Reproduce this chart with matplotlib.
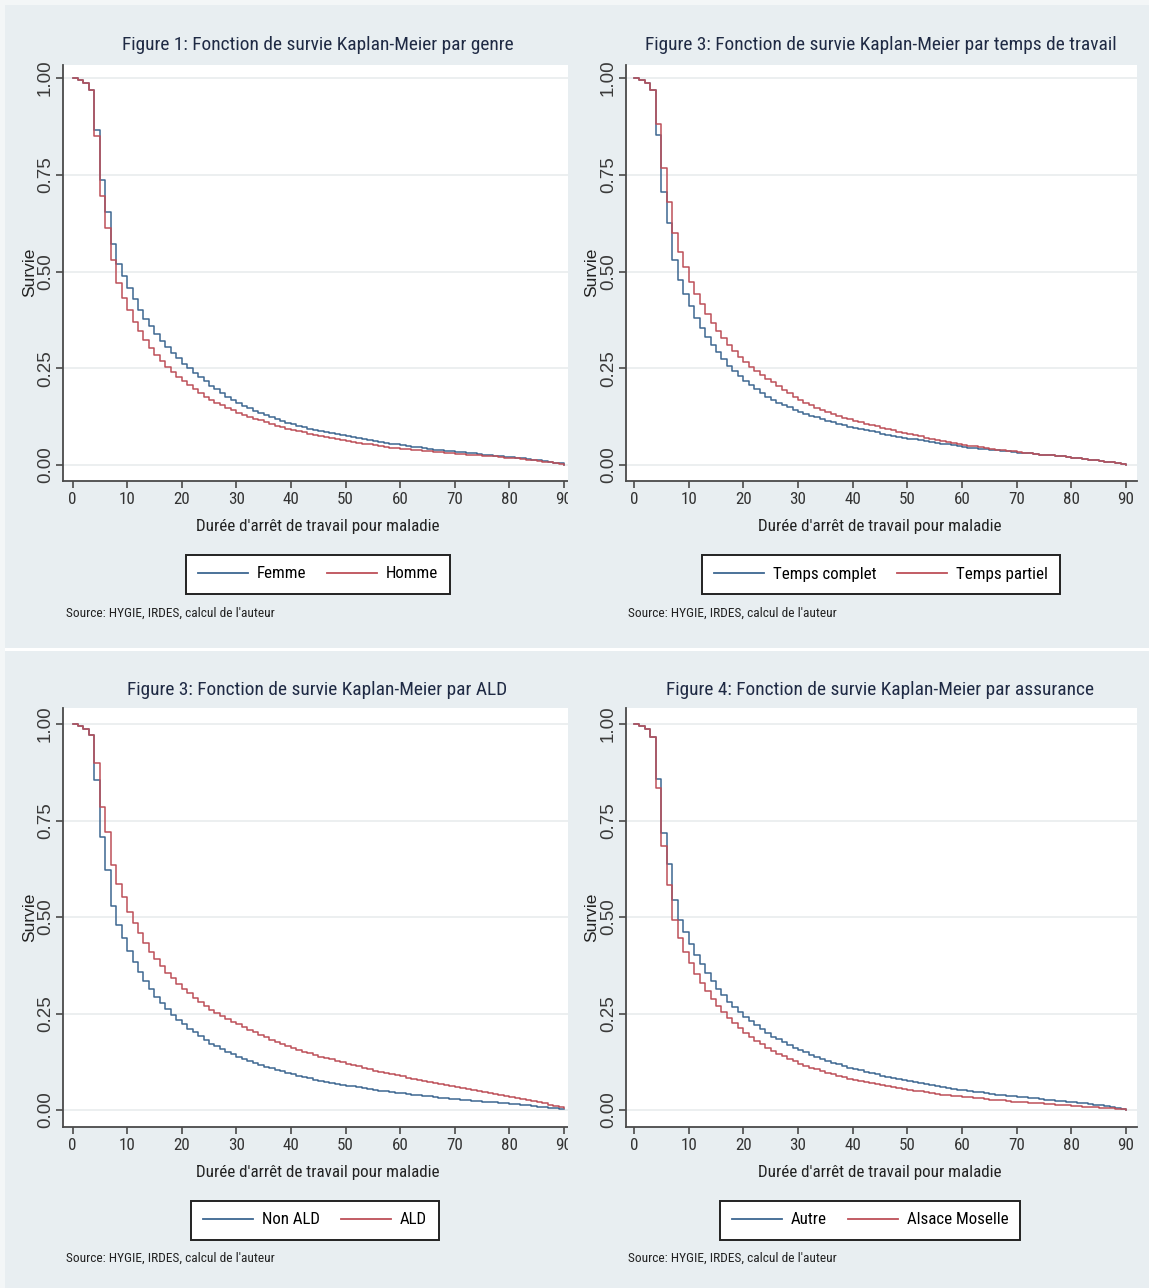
import matplotlib.pyplot as plt
import matplotlib.font_manager as fm
from matplotlib.font_manager import FontProperties
from matplotlib.patches import Rectangle
from matplotlib.lines import Line2D

# survival at each day 0..90
days = list(range(91))

genre_femme = [1.000, .996, .988, .970, .866, .736, .655, .571, .520, .488,
               .458, .428, .400, .378, .358, .338, .320, .304, .290, .276,
               .262, .250, .239, .228, .217, .205, .196, .186, .177, .168,
               .160, .153, .146, .140, .134, .128, .123, .118, .114, .109,
               .105, .101, .098, .094, .091, .088, .085, .082, .079, .077,
               .074, .072, .069, .067, .064, .062, .060, .057, .055, .053,
               .051, .049, .047, .046, .044, .042, .040, .039, .037, .036,
               .034, .033, .031, .030, .028, .027, .026, .024, .023, .021,
               .020, .018, .017, .015, .014, .012, .010, .008, .006, .004, .000]
genre_homme = [1.000, .996, .988, .970, .850, .696, .612, .530, .470, .432,
               .400, .370, .345, .322, .302, .284, .268, .253, .240, .228,
               .216, .206, .196, .186, .177, .168, .161, .154, .147, .141,
               .135, .130, .125, .120, .115, .110, .106, .102, .098, .094,
               .090, .087, .084, .081, .078, .075, .072, .070, .067, .065,
               .062, .060, .058, .055, .053, .051, .049, .047, .045, .044,
               .042, .041, .039, .038, .036, .035, .034, .033, .031, .030,
               .029, .028, .027, .026, .025, .024, .023, .022, .020, .019,
               .018, .017, .015, .014, .012, .011, .009, .007, .005, .003, .000]

temps_complet = [1.000, .996, .988, .970, .853, .706, .625, .530, .478, .442,
                 .410, .380, .354, .331, .310, .291, .273, .257, .243, .230,
                 .217, .206, .196, .186, .177, .168, .161, .155, .149, .143,
                 .137, .132, .127, .123, .118, .114, .110, .106, .103, .099,
                 .096, .093, .090, .087, .084, .081, .078, .076, .073, .071,
                 .068, .066, .064, .061, .059, .057, .055, .053, .051, .049,
                 .047, .045, .044, .042, .041, .039, .038, .036, .035, .033,
                 .032, .031, .030, .028, .027, .026, .025, .023, .022, .020,
                 .019, .017, .016, .014, .013, .011, .009, .007, .005, .003, .000]
temps_partiel = [1.000, .996, .988, .970, .881, .767, .680, .600, .551, .512,
                 .474, .443, .415, .390, .367, .346, .327, .310, .294, .280,
                 .266, .254, .243, .233, .223, .214, .204, .195, .186, .177,
                 .168, .161, .154, .148, .142, .136, .131, .127, .122, .118,
                 .114, .110, .107, .103, .100, .096, .093, .090, .086, .083,
                 .080, .077, .074, .071, .068, .065, .062, .060, .057, .055,
                 .052, .050, .048, .046, .044, .042, .040, .038, .037, .035,
                 .033, .032, .030, .029, .027, .026, .025, .023, .022, .020,
                 .019, .017, .016, .014, .013, .011, .009, .007, .005, .003, .000]

non_ald = [1.000, .996, .988, .971, .855, .708, .622, .528, .479, .445,
           .412, .383, .357, .334, .313, .294, .277, .261, .247, .234,
           .222, .211, .201, .191, .181, .172, .165, .158, .151, .144,
           .138, .133, .127, .122, .117, .112, .108, .104, .100, .096,
           .092, .089, .086, .082, .079, .076, .073, .071, .068, .066,
           .063, .061, .059, .056, .054, .052, .050, .048, .046, .045,
           .043, .041, .040, .038, .037, .035, .034, .032, .031, .029,
           .028, .027, .026, .024, .023, .022, .021, .020, .018, .017,
           .016, .015, .013, .012, .010, .009, .008, .006, .005, .003, .002]
ald = [1.000, .996, .988, .971, .900, .785, .720, .635, .585, .552,
       .514, .485, .458, .433, .410, .390, .372, .356, .341, .327,
       .314, .302, .291, .280, .270, .260, .252, .244, .237, .229,
       .222, .215, .208, .201, .194, .188, .182, .176, .171, .165,
       .160, .155, .151, .147, .142, .138, .134, .131, .127, .124,
       .120, .116, .113, .109, .106, .102, .099, .096, .093, .090,
       .087, .084, .081, .079, .076, .073, .070, .068, .065, .063,
       .060, .057, .055, .052, .050, .047, .044, .042, .039, .037,
       .034, .031, .028, .026, .023, .020, .017, .014, .011, .008, .005]

autre = [1.000, .996, .988, .967, .857, .717, .637, .544, .492, .460,
         .430, .402, .377, .354, .333, .314, .297, .281, .266, .253,
         .241, .230, .219, .209, .199, .190, .183, .176, .168, .161,
         .155, .149, .143, .138, .132, .127, .123, .118, .114, .110,
         .106, .103, .099, .096, .092, .089, .086, .083, .081, .078,
         .075, .072, .070, .067, .065, .062, .060, .058, .055, .053,
         .051, .049, .047, .046, .044, .042, .040, .039, .037, .036,
         .034, .033, .031, .030, .028, .027, .026, .024, .023, .021,
         .020, .018, .017, .015, .014, .012, .010, .008, .006, .003, .000]
alsace = [1.000, .996, .988, .967, .834, .685, .583, .492, .445, .410,
          .380, .353, .329, .308, .288, .270, .254, .239, .225, .212,
          .200, .190, .180, .170, .161, .152, .145, .139, .132, .126,
          .120, .115, .110, .105, .101, .096, .092, .088, .085, .081,
          .078, .075, .072, .070, .067, .064, .062, .059, .057, .054,
          .052, .050, .048, .046, .044, .042, .040, .039, .037, .036,
          .034, .033, .031, .030, .028, .027, .026, .025, .023, .022,
          .021, .020, .019, .018, .017, .016, .015, .014, .013, .012,
          .011, .010, .009, .008, .007, .006, .005, .004, .003, .002, .000]

titles = ["Figure 1: Fonction de survie Kaplan-Meier par genre",
          "Figure 3: Fonction de survie Kaplan-Meier par temps de travail",
          "Figure 3: Fonction de survie Kaplan-Meier par ALD",
          "Figure 4: Fonction de survie Kaplan-Meier par assurance"]
legend_labels = [("Femme", "Homme"), ("Temps complet", "Temps partiel"),
                 ("Non ALD", "ALD"), ("Autre", "Alsace Moselle")]
series = [(genre_femme, genre_homme), (temps_complet, temps_partiel),
          (non_ald, ald), (autre, alsace)]
xticks = [0, 10, 20, 30, 40, 50, 60, 70, 80, 90]
yticks = [0, 0.25, 0.5, 0.75, 1.0]
source = "Source: HYGIE, IRDES, calcul de l'auteur"
xlabel = "Durée d'arrêt de travail pour maladie"

BG = '#e8eef1'
BLUE = '#3d6791'
RED = '#bd4f58'
AXC = '#4a4a4a'
WIDE = ['Liberation Sans', 'DejaVu Sans']


def find_narrow():
    # look for a condensed sans face (Stata used Arial Narrow)
    names = ['Liberation Sans Narrow', 'Arial Narrow', 'Roboto Condensed',
             'Open Sans Condensed', 'Noto Sans Condensed', 'DejaVu Sans Condensed']
    regular = lambda f: f.style == 'normal' and f.weight in (400, 'normal', 'regular')
    for name in names:
        for f in fm.fontManager.ttflist:
            if f.name == name and regular(f):
                return f.fname
    for f in fm.fontManager.ttflist:
        if f.stretch in ('condensed', 'semi-condensed', 'extra-condensed') and regular(f):
            return f.fname
    return None


NARROW_FILE = find_narrow()


def nfont(size):
    if NARROW_FILE:
        return FontProperties(fname=NARROW_FILE, size=size)
    return FontProperties(family='Liberation Sans', size=size)


W, H = 1149, 1288
fig = plt.figure(figsize=(W / 100, H / 100), dpi=100)
fig.patch.set_facecolor(BG)
renderer = fig.canvas.get_renderer()


def fitted_size(text, target_px, guess=14.0):
    # font size whose rendered width matches the width measured on the reference
    t = fig.text(0, 0, text, fontproperties=nfont(guess))
    w = t.get_window_extent(renderer).width
    t.remove()
    return guess * target_px / w


TITLE_SIZE = fitted_size(titles[0], 394)
XLAB_SIZE = fitted_size(xlabel, 245)
SRC_SIZE = fitted_size(source, 210)
LEG_SIZE = fitted_size("Temps complet", 104)
TICK_SIZE = XLAB_SIZE * 1.0
LEG_PX = LEG_SIZE * 100 / 72


def rect(x0, y0, x1, y1):
    return [x0 / W, 1 - y1 / H, (x1 - x0) / W, (y1 - y0) / H]


def fx(x):
    return x / W


def fy(y):
    return 1 - y / H


# pixel layout of each panel: axes box, x of day 0 / day 90, y of 1.00 / 0.00, offsets
layout = [
    dict(box=(63, 65, 576, 481), x0=72.5, x90=564, y1=78, y0=465, dx=0, dy=0),
    dict(box=(626, 65, 1137, 481), x0=634, x90=1126, y1=78, y0=465, dx=562, dy=0),
    dict(box=(63, 708, 576, 1127), x0=72.5, x90=564, y1=724, y0=1110, dx=0, dy=645),
    dict(box=(626, 708, 1137, 1127), x0=634, x90=1126, y1=724, y0=1110, dx=562, dy=645),
]
legend_centers = [(318, 574), (881, 574), (315, 1220), (870, 1220)]
title_centers = [(318, 45), (881, 45), (317, 690), (880, 690)]

for i, lay in enumerate(layout):
    bx0, by0, bx1, by1 = lay['box']
    ax = fig.add_axes(rect(bx0, by0, bx1, by1))
    ax.set_zorder(0 if i in (0, 2) else 1)
    ppd = (lay['x90'] - lay['x0']) / 90
    ax.set_xlim((bx0 - lay['x0']) / ppd, (bx1 - lay['x0']) / ppd)
    ppv = lay['y0'] - lay['y1']
    ax.set_ylim((lay['y0'] - by1) / ppv, (lay['y0'] - by0) / ppv)
    ax.set_facecolor('white')

    for yv in yticks:
        ax.axhline(yv, color='#e9ecee', lw=1.2, zorder=1)

    s_blue, s_red = series[i]
    ax.step(days, s_blue, where='post', color=BLUE, lw=1.1, zorder=3)
    ax.step(days, s_red, where='post', color=RED, lw=1.1, zorder=3)

    for side in ('top', 'right'):
        ax.spines[side].set_visible(False)
    for side in ('left', 'bottom'):
        ax.spines[side].set_color(AXC)
        ax.spines[side].set_linewidth(1.3)

    ax.set_xticks(xticks)
    ax.set_xticklabels([str(t) for t in xticks], fontproperties=nfont(TICK_SIZE),
                       color='#333333')
    ax.set_yticks(yticks)
    ax.set_yticklabels(['%.2f' % t for t in yticks], family=WIDE, fontsize=13.5,
                       color='#3a3a3a', rotation=90, va='center')
    ax.tick_params(axis='both', direction='out', length=5, width=1.2, color=AXC)
    ax.tick_params(axis='x', pad=3)
    ax.tick_params(axis='y', pad=1.5)

    handles = [Line2D([], [], color=BLUE, lw=1.3), Line2D([], [], color=RED, lw=1.3)]
    lx, ly = legend_centers[i]
    leg = ax.legend(handles, legend_labels[i], ncol=2, loc='center',
                    bbox_to_anchor=(fx(lx), fy(ly)), bbox_transform=fig.transFigure,
                    prop=nfont(LEG_SIZE), frameon=True, fancybox=False,
                    framealpha=1, edgecolor='#222222',
                    handlelength=50 / LEG_PX, columnspacing=21 / LEG_PX,
                    handletextpad=9 / LEG_PX, borderpad=12 / LEG_PX,
                    borderaxespad=0)
    leg.get_frame().set_linewidth(1.4)

    dx, dy = lay['dx'], lay['dy']
    tx, ty = title_centers[i]
    fig.text(fx(tx), fy(ty), titles[i], ha='center', va='center',
             fontproperties=nfont(TITLE_SIZE), color='#1f2a44', zorder=3)
    fig.text(fx(318 + dx), fy(527 + dy), xlabel, ha='center', va='center',
             fontproperties=nfont(XLAB_SIZE), color='#222222', zorder=3)
    fig.text(fx(30 + dx), fy(272 + dy), 'Survie', ha='center', va='center',
             rotation=90, family=WIDE, fontsize=12.5, color='#222222', zorder=3)
    fig.text(fx(66 + dx), fy(613 + dy), source, ha='left', va='center',
             fontproperties=nfont(SRC_SIZE), color='#222222', zorder=3)

# right-hand panels are pasted over the left ones, cutting their right edge
fig.add_artist(Rectangle((fx(568), 0), 1 - fx(568), 1, transform=fig.transFigure,
                         facecolor=BG, edgecolor='none', zorder=0.5))
# white separator between top and bottom rows, light frame edges
fig.add_artist(Rectangle((0, fy(651)), 1, 3 / H, transform=fig.transFigure,
                         facecolor='white', edgecolor='none', zorder=5))
fig.add_artist(Rectangle((0, fy(5)), 1, 5 / H, transform=fig.transFigure,
                         facecolor='#f3f6f7', edgecolor='none', zorder=5))
fig.add_artist(Rectangle((0, 0), 5 / W, 1, transform=fig.transFigure,
                         facecolor='#f3f6f7', edgecolor='none', zorder=5))

fig.savefig('out.png', dpi=100, facecolor=BG)
